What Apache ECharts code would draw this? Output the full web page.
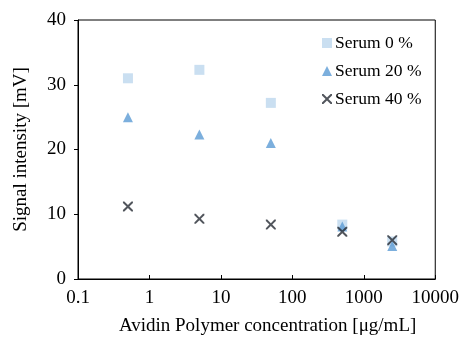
<!DOCTYPE html>
<html>
<head>
<meta charset="utf-8">
<script src="https://cdn.jsdelivr.net/npm/echarts@6/dist/echarts.min.js"></script>
<style>
html,body{margin:0;padding:0;background:#fff;}
#chart{width:462px;height:341px;}
</style>
</head>
<body>
<div id="chart"></div>
<script>
var concentrations = [0.5, 5, 50, 500, 2500];
var serum0 = [31.0, 32.3, 27.2, 8.4, 5.8];
var serum20 = [25.0, 22.3, 21.0, 8.1, 5.1];
var serum40 = [11.2, 9.3, 8.4, 7.3, 6.0];
var seriesNames = ['Serum 0 %', 'Serum 20 %', 'Serum 40 %'];
var xTickLabels = ['0.1', '1', '10', '100', '1000', '10000'];
var yTicks = [0, 10, 20, 30, 40];

function pairs(ys) { return concentrations.map(function (x, i) { return [x, ys[i]]; }); }

var xPath = 'path://M0,0 L2.8,0 L10,7.2 L17.2,0 L20,0 L20,2.8 L12.8,10 L20,17.2 L20,20 L17.2,20 L10,12.8 L2.8,20 L0,20 L0,17.2 L7.2,10 L0,2.8 Z';
var font = 'Liberation Serif';

var chart = echarts.init(document.getElementById('chart'), null, {renderer: 'canvas'});
chart.setOption({
  animation: false,
  backgroundColor: '#fff',
  grid: {left: 78, right: 23, top: 20, bottom: 61, show: true, borderColor: '#000', borderWidth: 1, backgroundColor: 'transparent'},
  legend: {
    orient: 'vertical', left: 322, top: 34, itemGap: 10, itemWidth: 10, itemHeight: 10,
    padding: 0,
    textStyle: {fontFamily: font, fontSize: 17.5, color: '#000', padding: [0, 0, 0, -2]},
    data: [
      {name: seriesNames[0], icon: 'rect'},
      {name: seriesNames[1], icon: 'triangle'},
      {name: seriesNames[2], icon: xPath}
    ]
  },
  xAxis: {
    type: 'log', logBase: 10, min: 0.1, max: 10000,
    name: 'Avidin Polymer concentration [μg/mL]', nameLocation: 'middle', nameGap: 38,
    nameTextStyle: {fontFamily: font, fontSize: 19, color: '#000', padding: [0, 0, 0, 22]},
    axisLine: {show: true, lineStyle: {color: '#000', width: 1}},
    axisTick: {show: true, inside: true, length: 4, lineStyle: {color: '#000'}},
    minorTick: {show: false},
    splitLine: {show: false},
    axisLabel: {
      fontFamily: font, fontSize: 19, color: '#000', margin: 10,
      formatter: function (v) {
        var e = Math.round(Math.log10(v));
        return xTickLabels[e + 1] !== undefined ? xTickLabels[e + 1] : '';
      }
    }
  },
  yAxis: {
    type: 'value', min: yTicks[0], max: yTicks[yTicks.length - 1], interval: 10,
    name: 'Signal intensity [mV]', nameLocation: 'middle', nameGap: 47,
    nameTextStyle: {fontFamily: font, fontSize: 19, color: '#000'},
    axisLine: {show: true, lineStyle: {color: '#000', width: 1}},
    axisTick: {show: true, inside: false, length: 4, lineStyle: {color: '#000'}},
    splitLine: {show: false},
    axisLabel: {fontFamily: font, fontSize: 19, color: '#000', margin: 12}
  },
  series: [
    {name: seriesNames[0], type: 'scatter', symbol: 'rect', symbolSize: 10,
     itemStyle: {color: '#BDD7EE'}, data: pairs(serum0), z: 2},
    {name: seriesNames[1], type: 'scatter', symbol: 'triangle', symbolSize: 10,
     itemStyle: {color: '#5B9BD5'}, data: pairs(serum20), z: 3},
    {name: seriesNames[2], type: 'scatter', symbol: xPath, symbolSize: 10,
     itemStyle: {color: '#262A33'}, data: pairs(serum40), z: 4}
  ]
});
</script>
</body>
</html>
